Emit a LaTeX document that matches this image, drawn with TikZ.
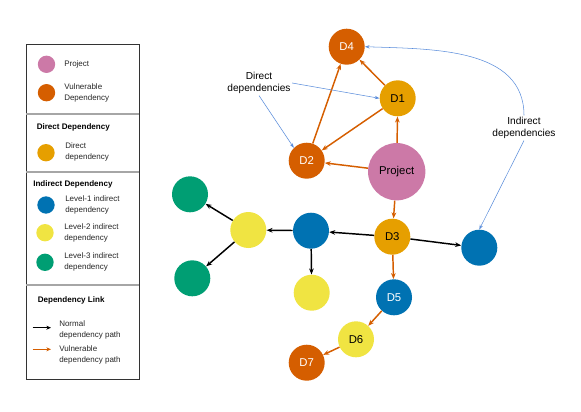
\documentclass[tikz,border=0pt]{standalone}
\usepackage{fontspec}
\setmainfont{Liberation Sans}
\usetikzlibrary{arrows.meta}

\definecolor{projcol}{HTML}{CC79A7}
\definecolor{vulncol}{HTML}{D55E00}
\definecolor{directcol}{HTML}{E69F00}
\definecolor{levelone}{HTML}{0072B2}
\definecolor{leveltwo}{HTML}{F0E442}
\definecolor{levelthree}{HTML}{009E73}
\definecolor{notecol}{HTML}{5B8DDB}

\tikzset{
  dep/.style={circle, minimum size=27pt, inner sep=0pt, font=\fontsize{8.5}{10}\selectfont},
  key/.style={circle, minimum size=13pt, inner sep=0pt},
  keytext/.style={anchor=west, align=left, inner sep=0pt, text=black!85, font=\fontsize{6}{8.2}\selectfont},
  keyhead/.style={anchor=west, inner sep=0pt, font=\fontsize{6.05}{8}\selectfont\bfseries},
  vuln/.style={vulncol, line width=1.1pt, -{Stealth[length=4.5pt, width=3.5pt]}},
  normal/.style={black, line width=1.1pt, -{Stealth[length=4.5pt, width=3.5pt]}},
  note/.style={notecol, line width=0.4pt, -{Stealth[length=3.5pt, width=2.5pt]}},
  notetext/.style={align=center, inner sep=1pt, font=\fontsize{7.6}{9.3}\selectfont}
}

\begin{document}
\begin{tikzpicture}[x=0.75pt, y=-0.75pt]
  \useasboundingbox (0,0) rectangle (581,411);

  % Add legend box
  \draw[black!80, line width=0.6pt] (26,44) rectangle (139,379);
  \foreach \y in {114, 172, 285} {
      \draw[gray!70, line width=0.8pt] (26,\y) -- (139,\y);
    }

  % Legend entries
  \node[key, fill=projcol] (kproj) at (46.5,64.3) {};
  \node[keytext] at (64,64.3) {Project};
  \node[key, fill=vulncol] (kvuln) at (46.5,92.7) {};
  \node[keytext] at (64,92.7) {Vulnerable\\Dependency};

  \node[keyhead] at (36.5,127.7) {Direct Dependency};
  \node[key, fill=directcol] (kdirect) at (46,152.7) {};
  \node[keytext] at (65,152) {Direct\\dependency};

  \node[keyhead] at (33,184.7) {Indirect Dependency};
  \node[key, fill=levelone] (kone) at (46,205) {};
  \node[keytext] at (65,205) {Level-1 indirect\\dependency};
  \node[key, fill=leveltwo] (ktwo) at (45,232.7) {};
  \node[keytext] at (64,232.7) {Level-2 indirect\\dependency};
  \node[key, fill=levelthree] (kthree) at (45,262.3) {};
  \node[keytext] at (64,262.3) {Level-3 indirect\\dependency};

  \node[keyhead] at (37.5,300) {Dependency Link};
  \coordinate (na) at (32.5,327.7);
  \coordinate (nb) at (51,327.7);
  \draw[black, line width=0.6pt, -{Stealth[length=3.5pt, width=3pt]}] (na) -- (nb);
  \node[keytext] at (59,330) {Normal\\dependency path};
  \coordinate (va) at (32.5,349.3);
  \coordinate (vb) at (51,349.3);
  \draw[vulncol, line width=0.6pt, -{Stealth[length=3.5pt, width=3pt]}] (va) -- (vb);
  \node[keytext] at (59,355) {Vulnerable\\dependency path};

  % Add dependency nodes
  \node[dep, minimum size=43pt, fill=projcol] (proj) at (396.7,171.7) {Project};
  \node[dep, fill=directcol] (d1) at (397.7,98.3) {D1};
  \node[dep, fill=vulncol, text=white] (d2) at (306.7,160.7) {D2};
  \node[dep, fill=directcol] (d3) at (392.3,236.7) {D3};
  \node[dep, fill=vulncol, text=white] (d4) at (346.7,46.7) {D4};
  \node[dep, fill=levelone, text=white] (d5) at (394,297.3) {D5};
  \node[dep, fill=leveltwo] (d6) at (356,339.3) {D6};
  \node[dep, fill=vulncol, text=white] (d7) at (306.7,362.7) {D7};

  \node[dep, fill=levelone] (bmid) at (311,230.7) {};
  \node[dep, fill=levelone] (bright) at (479.3,247.7) {};
  \node[dep, fill=leveltwo] (yleft) at (248.3,230) {};
  \node[dep, fill=leveltwo] (ybot) at (311.7,292.7) {};
  \node[dep, fill=levelthree] (gtop) at (190,194.3) {};
  \node[dep, fill=levelthree] (gbot) at (192.3,278.3) {};

  % Vulnerable paths
  \draw[vuln] (proj) -- (d1);
  \draw[vuln] (proj) -- (d2);
  \draw[vuln] (d1) -- (d4);
  \draw[vuln] (d1) -- (d2);
  \draw[vuln] (d2) -- (d4);
  \draw[vuln] (proj) -- (d3);
  \draw[vuln] (d3) -- (d5);
  \draw[vuln] (d5) -- (d6);
  \draw[vuln] (d6) -- (d7);

  % Normal paths
  \draw[normal] (d3) -- (bmid);
  \draw[normal] (d3) -- (bright);
  \draw[normal] (bmid) -- (yleft);
  \draw[normal] (bmid) -- (ybot);
  \draw[normal] (yleft) -- (gtop);
  \draw[normal] (yleft) -- (gbot);

  % Add annotations
  \node[notetext] (dtxt) at (259,83) {Direct\\dependencies};
  \node[notetext] (itxt) at (524,128) {Indirect\\dependencies};
  \draw[note] (dtxt.east) -- (d1.west);
  \draw[note] (dtxt.south) -- (d2.north west);
  \draw[note] (itxt.north) to[out=90, in=-2] (d4.east);
  \draw[note] (itxt.south) -- (bright.north);

\end{tikzpicture}
\end{document}
